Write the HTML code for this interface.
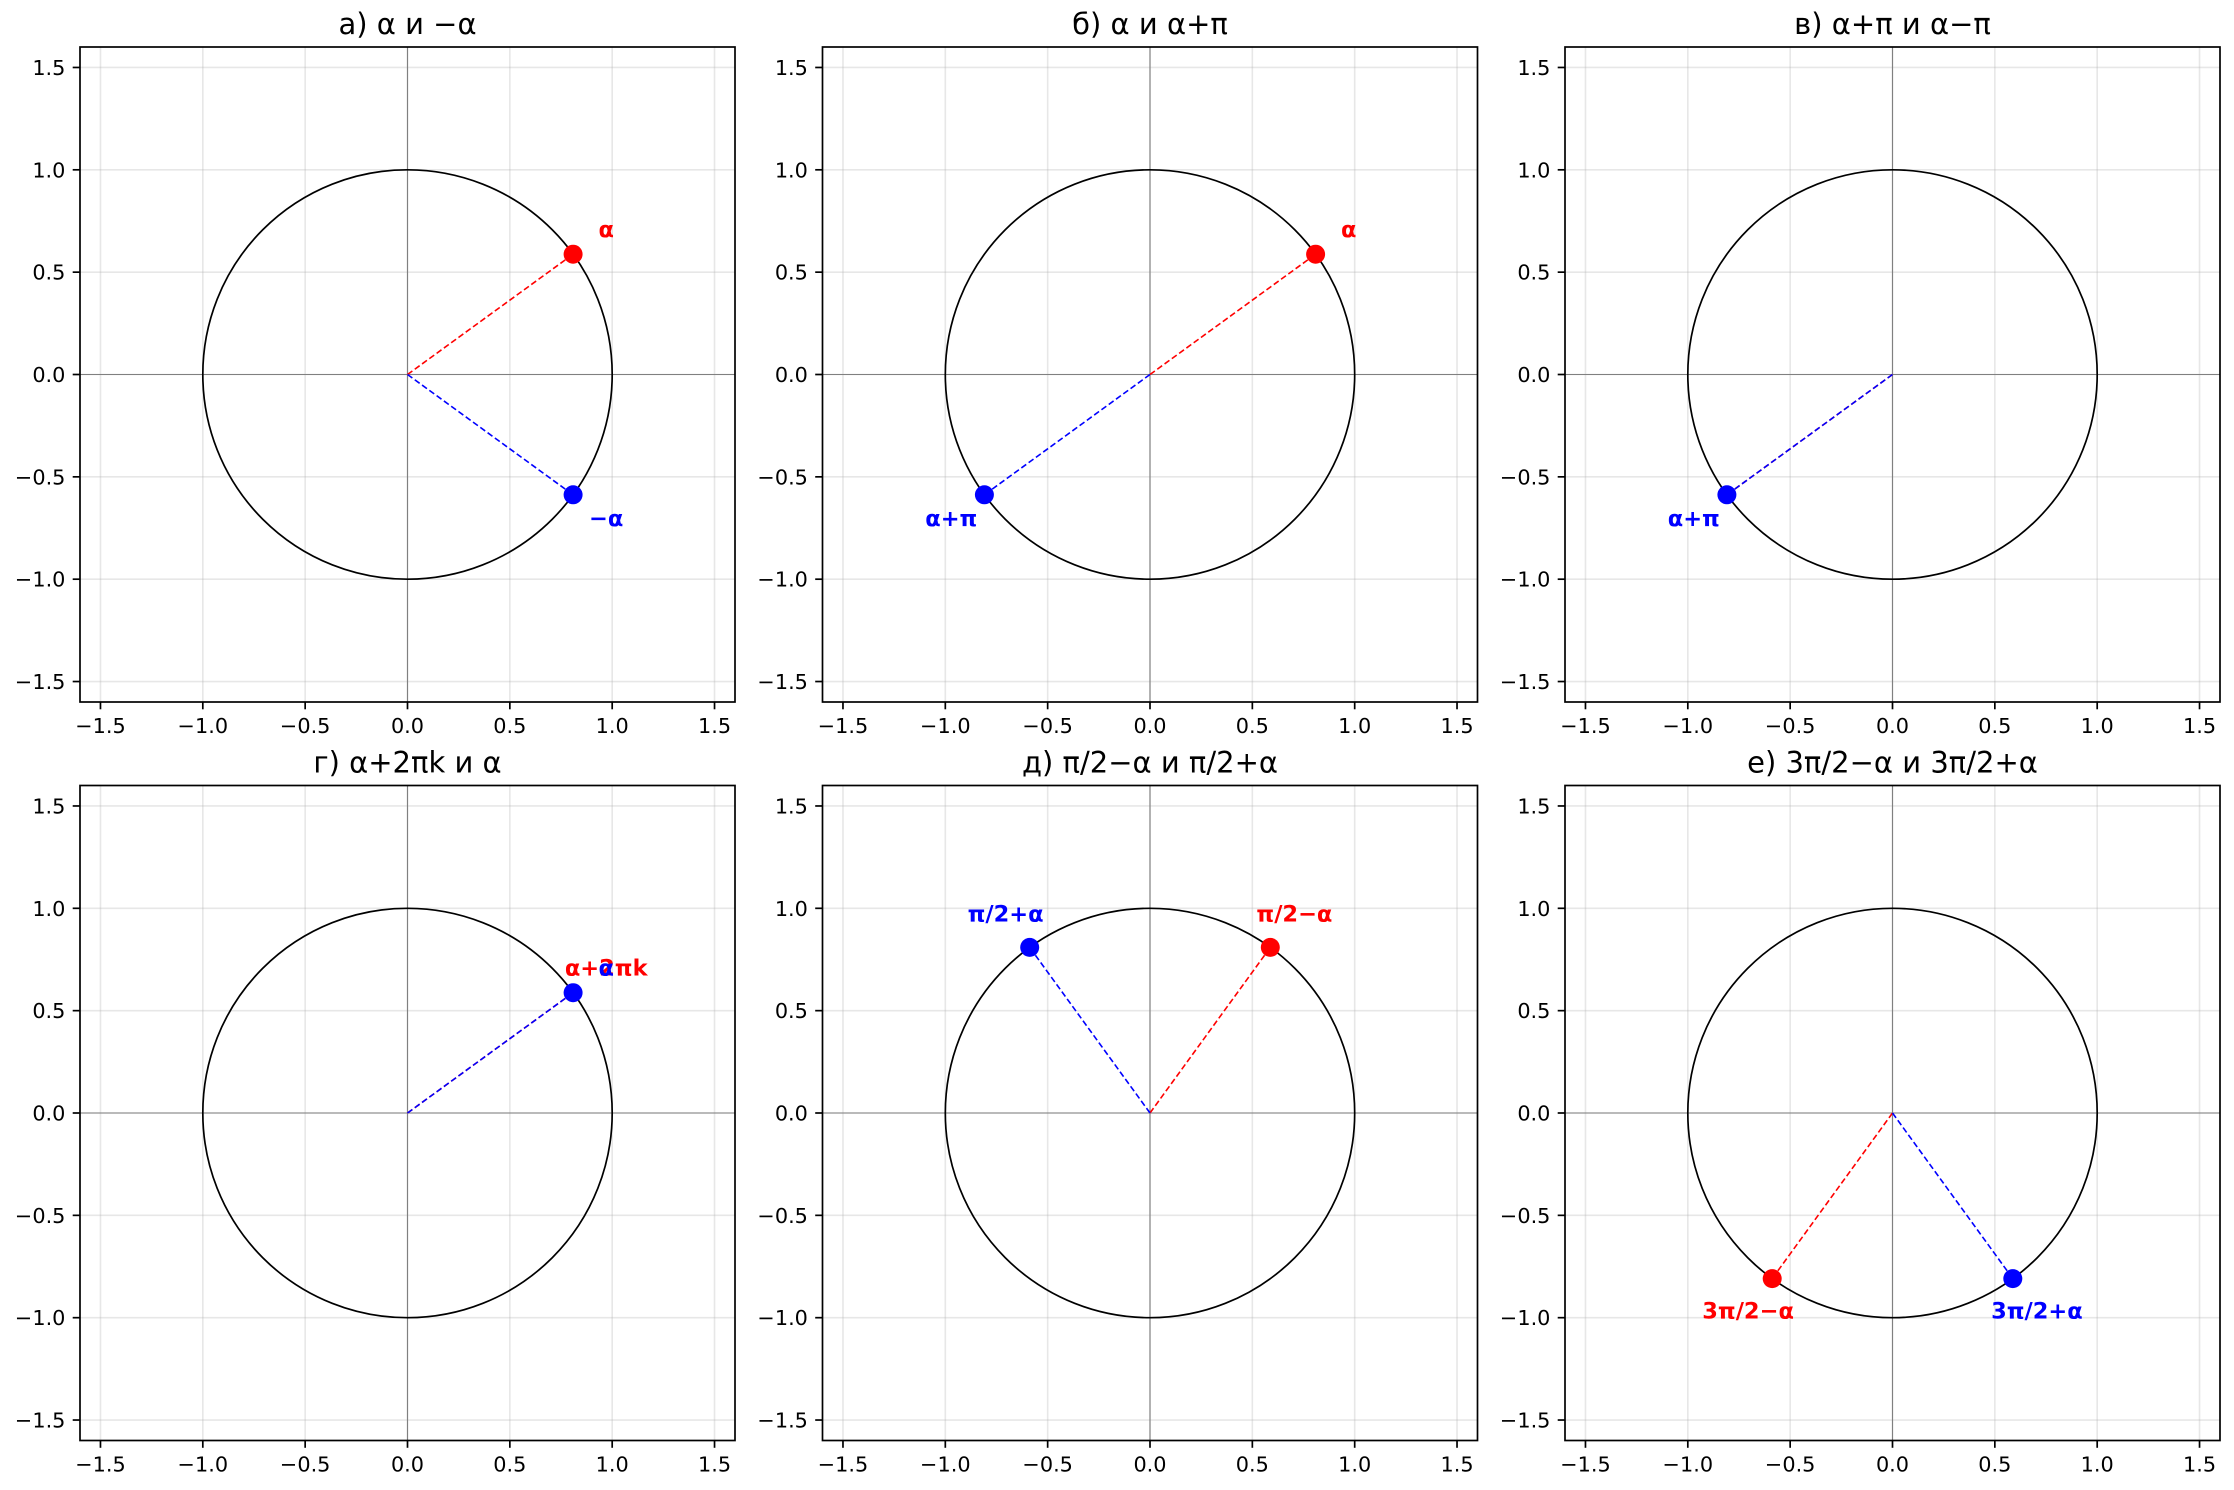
<!DOCTYPE html>
<html><head><meta charset="utf-8"><style>
html,body{margin:0;padding:0;background:#fff}
svg{display:block}
text{font-family:"DejaVu Sans","Liberation Sans",sans-serif;fill:#000}
.t{font-size:20.8px}
.ti{font-size:29px}
.lb{font-size:22.5px;font-weight:bold}
</style></head><body>
<svg width="2234" height="1490" viewBox="0 0 2234 1490" xmlns="http://www.w3.org/2000/svg">
<defs>
<g id="bg">
  <g stroke="#b0b0b0" stroke-opacity="0.3" stroke-width="1.6">
    <line x1="20.47" y1="0" x2="20.47" y2="655"/><line x1="122.81" y1="0" x2="122.81" y2="655"/><line x1="225.16" y1="0" x2="225.16" y2="655"/><line x1="327.5" y1="0" x2="327.5" y2="655"/><line x1="429.84" y1="0" x2="429.84" y2="655"/><line x1="532.19" y1="0" x2="532.19" y2="655"/><line x1="634.53" y1="0" x2="634.53" y2="655"/>
    <line y1="20.47" x1="0" y2="20.47" x2="655"/><line y1="122.81" x1="0" y2="122.81" x2="655"/><line y1="225.16" x1="0" y2="225.16" x2="655"/><line y1="327.5" x1="0" y2="327.5" x2="655"/><line y1="429.84" x1="0" y2="429.84" x2="655"/><line y1="532.19" x1="0" y2="532.19" x2="655"/><line y1="634.53" x1="0" y2="634.53" x2="655"/>
  </g>
  <line x1="0" y1="327.5" x2="655" y2="327.5" stroke="#808080" stroke-width="1.1"/>
  <line x1="327.5" y1="0" x2="327.5" y2="655" stroke="#808080" stroke-width="1.1"/>
  <circle cx="327.5" cy="327.5" r="204.69" fill="none" stroke="#000" stroke-width="1.7"/>
</g>
<g id="fg">
  <rect x="0" y="0" width="655" height="655" fill="none" stroke="#000" stroke-width="1.7"/>
  <g stroke="#000" stroke-width="1.7">
    <line x1="20.47" y1="655" x2="20.47" y2="662.3"/><line x1="122.81" y1="655" x2="122.81" y2="662.3"/><line x1="225.16" y1="655" x2="225.16" y2="662.3"/><line x1="327.5" y1="655" x2="327.5" y2="662.3"/><line x1="429.84" y1="655" x2="429.84" y2="662.3"/><line x1="532.19" y1="655" x2="532.19" y2="662.3"/><line x1="634.53" y1="655" x2="634.53" y2="662.3"/>
    <line y1="20.47" x1="0" y2="20.47" x2="-7.3"/><line y1="122.81" x1="0" y2="122.81" x2="-7.3"/><line y1="225.16" x1="0" y2="225.16" x2="-7.3"/><line y1="327.5" x1="0" y2="327.5" x2="-7.3"/><line y1="429.84" x1="0" y2="429.84" x2="-7.3"/><line y1="532.19" x1="0" y2="532.19" x2="-7.3"/><line y1="634.53" x1="0" y2="634.53" x2="-7.3"/>
  </g>
</g>
</defs>

<!-- a -->
<g transform="translate(80,47)">
  <use href="#bg"/>
  <line x1="327.5" y1="327.5" x2="493.1" y2="207.2" stroke="#f00" stroke-width="1.6" stroke-dasharray="6,3"/>
  <line x1="327.5" y1="327.5" x2="493.1" y2="447.8" stroke="#00f" stroke-width="1.6" stroke-dasharray="6,3"/>
  <circle cx="493.1" cy="207.2" r="9.5" fill="#f00"/>
  <circle cx="493.1" cy="447.8" r="9.5" fill="#00f"/>
  <text class="lb" x="526.2" y="183.1" text-anchor="middle" dominant-baseline="central" style="fill:#f00">α</text>
  <text class="lb" x="526.2" y="471.9" text-anchor="middle" dominant-baseline="central" style="fill:#00f">−α</text>
  <use href="#fg"/>
  <text class="ti" x="327.5" y="-13" text-anchor="middle">а) α и −α</text>
  <g class="t" text-anchor="middle"><text x="20.47" y="686">−1.5</text><text x="122.81" y="686">−1.0</text><text x="225.16" y="686">−0.5</text><text x="327.5" y="686">0.0</text><text x="429.84" y="686">0.5</text><text x="532.19" y="686">1.0</text><text x="634.53" y="686">1.5</text></g>
  <g class="t" text-anchor="end"><text x="-14.6" y="28">1.5</text><text x="-14.6" y="130.3">1.0</text><text x="-14.6" y="232.7">0.5</text><text x="-14.6" y="335">0.0</text><text x="-14.6" y="437.3">−0.5</text><text x="-14.6" y="539.7">−1.0</text><text x="-14.6" y="642">−1.5</text></g>
</g>
<!-- b -->
<g transform="translate(822.5,47)">
  <use href="#bg"/>
  <line x1="327.5" y1="327.5" x2="493.1" y2="207.2" stroke="#f00" stroke-width="1.6" stroke-dasharray="6,3"/>
  <line x1="327.5" y1="327.5" x2="161.9" y2="447.8" stroke="#00f" stroke-width="1.6" stroke-dasharray="6,3"/>
  <circle cx="493.1" cy="207.2" r="9.5" fill="#f00"/>
  <circle cx="161.9" cy="447.8" r="9.5" fill="#00f"/>
  <text class="lb" x="526.2" y="183.1" text-anchor="middle" dominant-baseline="central" style="fill:#f00">α</text>
  <text class="lb" x="128.8" y="471.9" text-anchor="middle" dominant-baseline="central" style="fill:#00f">α+π</text>
  <use href="#fg"/>
  <text class="ti" x="327.5" y="-13" text-anchor="middle">б) α и α+π</text>
  <g class="t" text-anchor="middle"><text x="20.47" y="686">−1.5</text><text x="122.81" y="686">−1.0</text><text x="225.16" y="686">−0.5</text><text x="327.5" y="686">0.0</text><text x="429.84" y="686">0.5</text><text x="532.19" y="686">1.0</text><text x="634.53" y="686">1.5</text></g>
  <g class="t" text-anchor="end"><text x="-14.6" y="28">1.5</text><text x="-14.6" y="130.3">1.0</text><text x="-14.6" y="232.7">0.5</text><text x="-14.6" y="335">0.0</text><text x="-14.6" y="437.3">−0.5</text><text x="-14.6" y="539.7">−1.0</text><text x="-14.6" y="642">−1.5</text></g>
</g>
<!-- c -->
<g transform="translate(1565,47)">
  <use href="#bg"/>
  <line x1="327.5" y1="327.5" x2="161.9" y2="447.8" stroke="#f00" stroke-width="1.6" stroke-dasharray="6,3"/>
  <line x1="327.5" y1="327.5" x2="161.9" y2="447.8" stroke="#00f" stroke-width="1.6" stroke-dasharray="6,3"/>
  <circle cx="161.9" cy="447.8" r="9.5" fill="#00f"/>
  <text class="lb" x="128.8" y="471.9" text-anchor="middle" dominant-baseline="central" style="fill:#00f">α+π</text>
  <use href="#fg"/>
  <text class="ti" x="327.5" y="-13" text-anchor="middle">в) α+π и α−π</text>
  <g class="t" text-anchor="middle"><text x="20.47" y="686">−1.5</text><text x="122.81" y="686">−1.0</text><text x="225.16" y="686">−0.5</text><text x="327.5" y="686">0.0</text><text x="429.84" y="686">0.5</text><text x="532.19" y="686">1.0</text><text x="634.53" y="686">1.5</text></g>
  <g class="t" text-anchor="end"><text x="-14.6" y="28">1.5</text><text x="-14.6" y="130.3">1.0</text><text x="-14.6" y="232.7">0.5</text><text x="-14.6" y="335">0.0</text><text x="-14.6" y="437.3">−0.5</text><text x="-14.6" y="539.7">−1.0</text><text x="-14.6" y="642">−1.5</text></g>
</g>
<!-- d -->
<g transform="translate(80,785.5)">
  <use href="#bg"/>
  <line x1="327.5" y1="327.5" x2="493.1" y2="207.2" stroke="#f00" stroke-width="1.6" stroke-dasharray="6,3"/>
  <line x1="327.5" y1="327.5" x2="493.1" y2="207.2" stroke="#00f" stroke-width="1.6" stroke-dasharray="6,3"/>
  <circle cx="493.1" cy="207.2" r="9.5" fill="#00f"/>
  <text class="lb" x="526.2" y="183.1" text-anchor="middle" dominant-baseline="central" style="fill:#f00">α+2πk</text>
  <text class="lb" x="526.2" y="183.1" text-anchor="middle" dominant-baseline="central" style="fill:#00f">α</text>
  <use href="#fg"/>
  <text class="ti" x="327.5" y="-13" text-anchor="middle">г) α+2πk и α</text>
  <g class="t" text-anchor="middle"><text x="20.47" y="686">−1.5</text><text x="122.81" y="686">−1.0</text><text x="225.16" y="686">−0.5</text><text x="327.5" y="686">0.0</text><text x="429.84" y="686">0.5</text><text x="532.19" y="686">1.0</text><text x="634.53" y="686">1.5</text></g>
  <g class="t" text-anchor="end"><text x="-14.6" y="28">1.5</text><text x="-14.6" y="130.3">1.0</text><text x="-14.6" y="232.7">0.5</text><text x="-14.6" y="335">0.0</text><text x="-14.6" y="437.3">−0.5</text><text x="-14.6" y="539.7">−1.0</text><text x="-14.6" y="642">−1.5</text></g>
</g>
<!-- e -->
<g transform="translate(822.5,785.5)">
  <use href="#bg"/>
  <line x1="327.5" y1="327.5" x2="447.8" y2="161.9" stroke="#f00" stroke-width="1.6" stroke-dasharray="6,3"/>
  <line x1="327.5" y1="327.5" x2="207.2" y2="161.9" stroke="#00f" stroke-width="1.6" stroke-dasharray="6,3"/>
  <circle cx="447.8" cy="161.9" r="9.5" fill="#f00"/>
  <circle cx="207.2" cy="161.9" r="9.5" fill="#00f"/>
  <text class="lb" x="471.9" y="128.8" text-anchor="middle" dominant-baseline="central" style="fill:#f00">π/2−α</text>
  <text class="lb" x="183.1" y="128.8" text-anchor="middle" dominant-baseline="central" style="fill:#00f">π/2+α</text>
  <use href="#fg"/>
  <text class="ti" x="327.5" y="-13" text-anchor="middle">д) π/2−α и π/2+α</text>
  <g class="t" text-anchor="middle"><text x="20.47" y="686">−1.5</text><text x="122.81" y="686">−1.0</text><text x="225.16" y="686">−0.5</text><text x="327.5" y="686">0.0</text><text x="429.84" y="686">0.5</text><text x="532.19" y="686">1.0</text><text x="634.53" y="686">1.5</text></g>
  <g class="t" text-anchor="end"><text x="-14.6" y="28">1.5</text><text x="-14.6" y="130.3">1.0</text><text x="-14.6" y="232.7">0.5</text><text x="-14.6" y="335">0.0</text><text x="-14.6" y="437.3">−0.5</text><text x="-14.6" y="539.7">−1.0</text><text x="-14.6" y="642">−1.5</text></g>
</g>
<!-- f -->
<g transform="translate(1565,785.5)">
  <use href="#bg"/>
  <line x1="327.5" y1="327.5" x2="207.2" y2="493.1" stroke="#f00" stroke-width="1.6" stroke-dasharray="6,3"/>
  <line x1="327.5" y1="327.5" x2="447.8" y2="493.1" stroke="#00f" stroke-width="1.6" stroke-dasharray="6,3"/>
  <circle cx="207.2" cy="493.1" r="9.5" fill="#f00"/>
  <circle cx="447.8" cy="493.1" r="9.5" fill="#00f"/>
  <text class="lb" x="183.1" y="526.2" text-anchor="middle" dominant-baseline="central" style="fill:#f00">3π/2−α</text>
  <text class="lb" x="471.9" y="526.2" text-anchor="middle" dominant-baseline="central" style="fill:#00f">3π/2+α</text>
  <use href="#fg"/>
  <text class="ti" x="327.5" y="-13" text-anchor="middle">е) 3π/2−α и 3π/2+α</text>
  <g class="t" text-anchor="middle"><text x="20.47" y="686">−1.5</text><text x="122.81" y="686">−1.0</text><text x="225.16" y="686">−0.5</text><text x="327.5" y="686">0.0</text><text x="429.84" y="686">0.5</text><text x="532.19" y="686">1.0</text><text x="634.53" y="686">1.5</text></g>
  <g class="t" text-anchor="end"><text x="-14.6" y="28">1.5</text><text x="-14.6" y="130.3">1.0</text><text x="-14.6" y="232.7">0.5</text><text x="-14.6" y="335">0.0</text><text x="-14.6" y="437.3">−0.5</text><text x="-14.6" y="539.7">−1.0</text><text x="-14.6" y="642">−1.5</text></g>
</g>
</svg>
</body></html>
